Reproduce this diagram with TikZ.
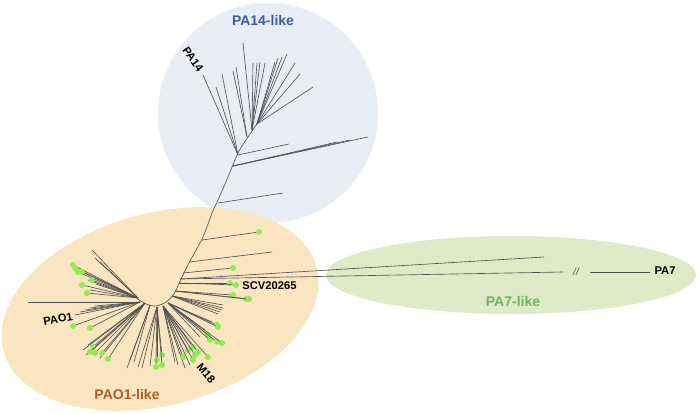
\documentclass[tikz,border=0pt]{standalone}
\usepackage{fontspec}
\setmainfont{Liberation Sans}
\definecolor{bluebg}{HTML}{E8ECF5}
\definecolor{orangebg}{HTML}{F9E5BF}
\definecolor{greenbg}{HTML}{DFEAC8}
\definecolor{leafgreen}{HTML}{8FEA55}
\definecolor{blueT}{HTML}{3F5CA0}
\definecolor{orangeT}{HTML}{B05E28}
\definecolor{greenT}{HTML}{6DB55E}
\begin{document}
\begin{tikzpicture}[x=0.5pt,y=-0.5pt,
  br/.style={draw=black!68, line width=0.32pt},
  leaf/.style={fill=leafgreen},
  grp/.style={font=\bfseries\fontsize{7}{8}\selectfont, inner sep=0pt},
  lbl/.style={font=\bfseries\fontsize{5.6}{6}\selectfont, inner sep=0pt}]
\useasboundingbox (0,0) rectangle (700,413);
% clade backgrounds
\fill[bluebg] (268,113) circle [radius=110];
\fill[orangebg, rotate around={15:(160,309)}] (160,309) ellipse [x radius=162, y radius=96];
\fill[greenbg] (511,275) ellipse [x radius=185, y radius=39];
% trunk
\draw[br] plot[smooth] coordinates {(135,297) (146,304) (156,306) (166,302) (174,294) (181,279) (190,261) (203,237) (212,213) (218,200) (228,177) (238,153) (248,137) (257,124)};
% PA14-like clade
\coordinate (t1) at (218,203);
\coordinate (t2) at (233,166);
\coordinate (t3) at (238,155);
\coordinate (t4) at (247,137);
\coordinate (t5) at (252,130);
\coordinate (t6) at (257,124);
\draw[br] (t1) -- (283,193);
\foreach \x/\y in {368/137,350/140,337/142} \draw[br] (t2) -- (\x,\y);
\draw[br] (t3) -- (289,144);
\foreach \x/\y in {203/75,216/87,222/74} \draw[br] (t3) -- (\x,\y);
\foreach \x/\y in {233/71,236/67} \draw[br] (t4) -- (\x,\y);
\foreach \x/\y in {243/43,253/63,257/63,260/62,265/63} \draw[br] (t5) -- (\x,\y);
\foreach \x/\y in {275/62,278/58,282/57,287/54,295/63,300/74,313/87} \draw[br] (t6) -- (\x,\y);
% PA7-like clade
\coordinate (p7) at (180,279);
\draw[br] (p7) -- (544,257);
\draw[br] (p7) -- (563,272);
\node[font=\fontsize{5}{6}\selectfont\itshape, text=black!70, inner sep=0pt] (brk) at (576,272) {//};
\coordinate (p7b) at (590,272);
\draw[br] (p7b) -- (650,272);
% PAO1-like clade: right side of trunk
\coordinate (r1) at (202,240);
\coordinate (r2) at (189,262);
\coordinate (r3) at (183,273);
\coordinate (r4) at (179,283);
\coordinate (r5) at (175,291);
\coordinate (r6) at (172,296);
\draw[br] (r1) -- (259,232); \fill[leaf] (259,232) circle (1.5pt);
\draw[br] (r2) -- (272,252);
\draw[br] (r3) -- (233,268); \fill[leaf] (233,268) circle (1.5pt);
\foreach \x/\y in {230/283,236/285} {\draw[br] (r4) -- (\x,\y); \fill[leaf] (\x,\y) circle (1.5pt);}
\foreach \x/\y in {233/295,246/299,249/299} {\draw[br] (r5) -- (\x,\y); \fill[leaf] (\x,\y) circle (1.5pt);}
\foreach \x/\y in {223/305,223/308,222/310,220/312,218/314} \draw[br] (r6) -- (\x,\y);
% down-right
\coordinate (d1) at (168,303);
\foreach \x/\y in {205/330,200/337,212/322} \draw[br] (d1) -- (\x,\y);
\foreach \x/\y in {217/325,218/327,208/335,210/340,217/342,222/343} {\draw[br] (d1) -- (\x,\y); \fill[leaf] (\x,\y) circle (1.5pt);}
\coordinate (d2) at (163,306);
\foreach \x/\y in {178/365,185/368,175/362,190/365} \draw[br] (d2) -- (\x,\y);
\foreach \x/\y in {183/357,188/350,193/347,195/355,193/360,198/352,208/357} {\draw[br] (d2) -- (\x,\y); \fill[leaf] (\x,\y) circle (1.5pt);}
\coordinate (d3) at (157,307);
\foreach \x/\y in {138/367,142/368,150/366} \draw[br] (d3) -- (\x,\y);
\foreach \x/\y in {157/360,162/355,156/367,162/365} {\draw[br] (d3) -- (\x,\y); \fill[leaf] (\x,\y) circle (1.5pt);}
\coordinate (d4) at (150,305);
\foreach \x/\y in {127/368,130/360,134/362} \draw[br] (d4) -- (\x,\y);
% left side
\coordinate (l1) at (145,303);
\foreach \x/\y in {83/350,86/355,100/358,88/345} \draw[br] (l1) -- (\x,\y);
\foreach \x/\y in {93/347,90/352,95/353,102/353,108/359} {\draw[br] (l1) -- (\x,\y); \fill[leaf] (\x,\y) circle (1.5pt);}
\coordinate (l2) at (140,302);
\foreach \x/\y in {28/302,75/315,80/312,85/310,90/308,95/306} \draw[br] (l2) -- (\x,\y);
\foreach \x/\y in {73/326,90/328} {\draw[br] (l2) -- (\x,\y); \fill[leaf] (\x,\y) circle (1.5pt);}
\coordinate (l3) at (138,298);
\foreach \x/\y in {92/250,95/258,100/262,88/280,90/290,96/284} \draw[br] (l3) -- (\x,\y);
\foreach \x/\y in {73/265,75/268,78/272,82/272,92/280,82/285,87/293} {\draw[br] (l3) -- (\x,\y); \fill[leaf] (\x,\y) circle (1.5pt);}
% labels
\node[grp, text=blueT] (lab14) at (263,20) {PA14-like};
\node[grp, text=orangeT] (labO1) at (127,394) {PAO1-like};
\node[grp, text=greenT] (lab7) at (513,301) {PA7-like};
\node[lbl, rotate=-55] (pa14) at (193,59) {PA14};
\node[lbl, rotate=10] (pao1) at (58,319) {PAO1};
\node[lbl, rotate=-50] (m18) at (206,373) {M18};
\node[lbl, anchor=west] (scv) at (242,286) {SCV20265};
\node[lbl] (pa7) at (665,271) {PA7};
\end{tikzpicture}
\end{document}
